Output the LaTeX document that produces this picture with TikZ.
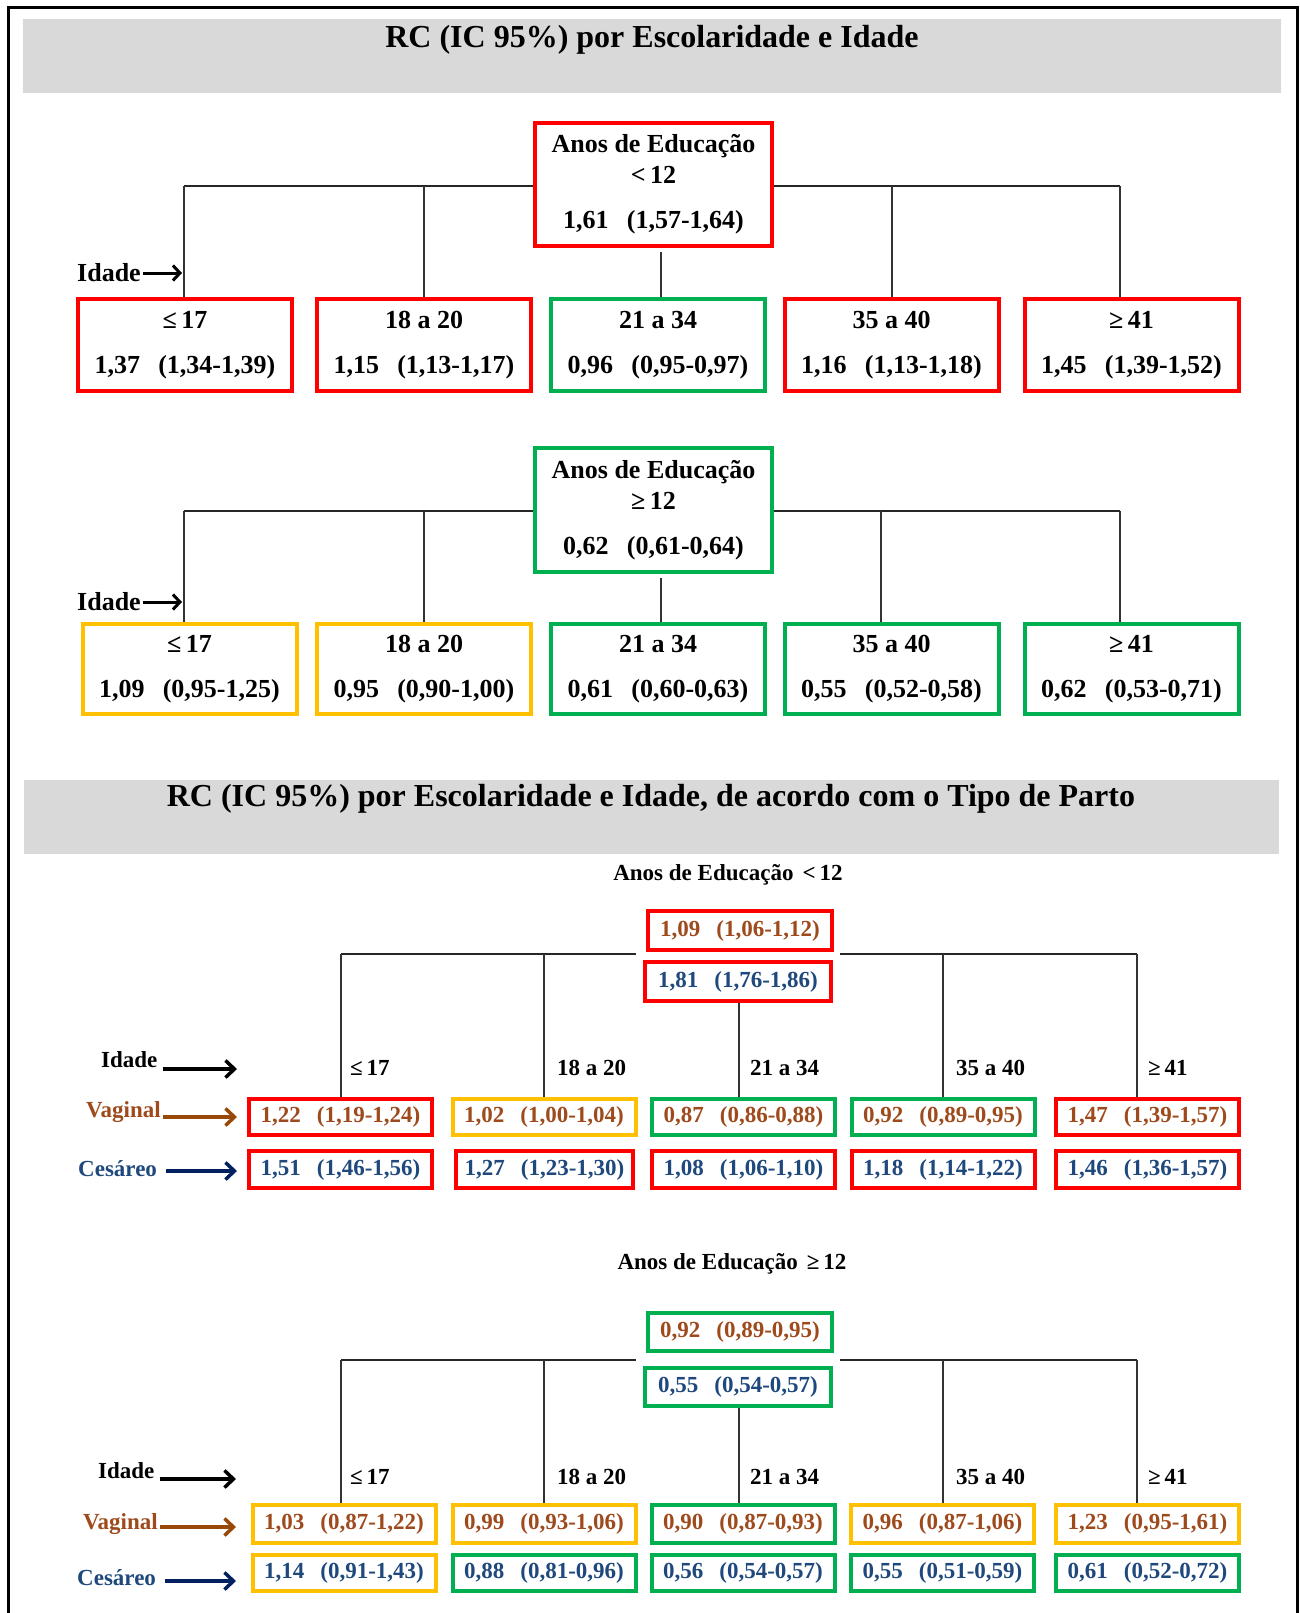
\documentclass[tikz,border=0pt]{standalone}
\usepackage{fontspec}
\setmainfont{Liberation Serif}
\usetikzlibrary{arrows.meta}
\definecolor{hdrgray}{RGB}{217,217,217}
\definecolor{cred}{RGB}{255,0,0}
\definecolor{cgreen}{RGB}{0,176,80}
\definecolor{cyel}{RGB}{255,192,0}
\definecolor{tbrown}{RGB}{158,74,28}
\definecolor{tblue}{RGB}{31,73,125}
\definecolor{abrown}{RGB}{152,72,7}
\definecolor{anavy}{RGB}{0,32,96}
\newcommand\rcval[2]{#1\hspace{0.7em}(#2)}
\tikzset{
  bx/.style={draw, line width=4pt, fill=white, inner sep=0pt, align=center},
  bigtxt/.style={font=\fontsize{26}{31}\selectfont\bfseries},
  smltxt/.style={font=\fontsize{23}{27}\selectfont\bfseries},
  ttl/.style={font=\fontsize{32}{37}\selectfont\bfseries, inner sep=0pt},
  lbl/.style={inner sep=0pt, anchor=west},
  bus/.style={line width=2.5pt, black!85},
  stem/.style={line width=1.3pt, black!80},
  smallarrow/.style={line width=3pt, -{Straight Barb[length=7pt,width=15pt]}},
  rowarrow/.style={line width=3.5pt, -{Straight Barb[length=9pt,width=17pt]}},
  hdr/.style={fill=hdrgray},
  % lower panels: value boxes in two rows
  vbox/.style={bx, smltxt, text=tbrown, minimum width=183, minimum height=36},
  cbox/.style={bx, smltxt, text=tblue, minimum width=183, minimum height=36},
  abox/.style={bx, bigtxt, minimum width=214, minimum height=92},
}
\begin{document}
\begin{tikzpicture}[x=1pt,y=-1pt]
\useasboundingbox (0,0) rectangle (1299,1613);
% outer frame
\draw[line width=3pt] (8,1613) -- (8,8) -- (1297,8) -- (1297,1613);

% ---------- panel 1 header ----------
\fill[hdr] (23,19) rectangle (1281,93);
\node[ttl] (h1) at (652,40) {RC (IC 95\%) por Escolaridade e Idade};

% ---------- Anos de Educacao < 12 ----------
\node[bx, bigtxt, draw=cred, minimum width=237, minimum height=123] (t1) at (653.5,184.5)
  {Anos de Educação\\ <\,12\\[14pt] \rcval{1,61}{1,57-1,64}};
\node[abox, draw=cred]   (a1) at (185,345)    {≤\,17\\[14pt]\rcval{1,37}{1,34-1,39}};
\node[abox, draw=cred]   (a2) at (424,345)    {18 a 20\\[14pt]\rcval{1,15}{1,13-1,17}};
\node[abox, draw=cgreen] (a3) at (658,345)    {21 a 34\\[14pt]\rcval{0,96}{0,95-0,97}};
\node[abox, draw=cred]   (a4) at (891.5,345)  {35 a 40\\[14pt]\rcval{1,16}{1,13-1,18}};
\node[abox, draw=cred]   (a5) at (1131.5,345) {≥\,41\\[14pt]\rcval{1,45}{1,39-1,52}};
\coordinate (j1a) at (184,186);
\coordinate (j1b) at (424,186);
\coordinate (j1d) at (892,186);
\coordinate (j1e) at (1120,186);
\draw[bus] (j1a) -- (t1.west |- j1a);
\draw[bus] (t1.east |- j1e) -- (j1e);
\draw[stem] (j1a) -- (j1a |- a1.north);
\draw[stem] (j1b) -- (j1b |- a2.north);
\draw[stem] (j1d) -- (j1d |- a4.north);
\draw[stem] (j1e) -- (j1e |- a5.north);
\draw[stem, shorten >=4pt] (a3.north -| 661,0) -- (t1.south -| 661,0);
\node[lbl, bigtxt] (id1) at (77,273) {Idade};
\coordinate (id1e) at (182,273);
\draw[smallarrow, shorten <=2pt] (id1) -- (id1e);

% ---------- Anos de Educacao >= 12 ----------
\node[bx, bigtxt, draw=cgreen, minimum width=237, minimum height=124] (t2) at (653.5,510)
  {Anos de Educação\\ ≥\,12\\[14pt] \rcval{0,62}{0,61-0,64}};
\node[abox, draw=cyel, minimum height=90]   (b1) at (189.5,669)  {≤\,17\\[14pt]\rcval{1,09}{0,95-1,25}};
\node[abox, draw=cyel, minimum height=90]   (b2) at (424,669)    {18 a 20\\[14pt]\rcval{0,95}{0,90-1,00}};
\node[abox, draw=cgreen, minimum height=90] (b3) at (658,669)    {21 a 34\\[14pt]\rcval{0,61}{0,60-0,63}};
\node[abox, draw=cgreen, minimum height=90] (b4) at (891.5,669)  {35 a 40\\[14pt]\rcval{0,55}{0,52-0,58}};
\node[abox, draw=cgreen, minimum height=90] (b5) at (1131.5,669) {≥\,41\\[14pt]\rcval{0,62}{0,53-0,71}};
\coordinate (j2a) at (184,511);
\coordinate (j2b) at (424,511);
\coordinate (j2d) at (881,511);
\coordinate (j2e) at (1120,511);
\draw[bus] (j2a) -- (t2.west |- j2a);
\draw[bus] (t2.east |- j2e) -- (j2e);
\draw[stem] (j2a) -- (j2a |- b1.north);
\draw[stem] (j2b) -- (j2b |- b2.north);
\draw[stem] (j2d) -- (j2d |- b4.north);
\draw[stem] (j2e) -- (j2e |- b5.north);
\draw[stem, shorten >=4pt] (b3.north -| 661,0) -- (t2.south -| 661,0);
\node[lbl, bigtxt] (id2) at (77,602) {Idade};
\coordinate (id2e) at (182,602);
\draw[smallarrow, shorten <=2pt] (id2) -- (id2e);

% ---------- panel 2 header ----------
\fill[hdr] (24,780) rectangle (1279,854);
\node[ttl] (h2) at (651,799) {RC (IC 95\%) por Escolaridade e Idade, de acordo com o Tipo de Parto};

% ---------- by delivery type, < 12 ----------
\node[smltxt, inner sep=0pt] (e3) at (728,875) {Anos de Educação\hspace{0.4em}<\,12};
\node[vbox, draw=cred, minimum width=184, minimum height=39] (v3t) at (740,930.5) {\rcval{1,09}{1,06-1,12}};
\node[cbox, draw=cred, minimum width=186, minimum height=39] (c3t) at (738,981.5) {\rcval{1,81}{1,76-1,86}};
\node[vbox, draw=cred]   (v31) at (340.5,1117)  {\rcval{1,22}{1,19-1,24}};
\node[vbox, draw=cyel]   (v32) at (544,1117)    {\rcval{1,02}{1,00-1,04}};
\node[vbox, draw=cgreen] (v33) at (743.5,1117)  {\rcval{0,87}{0,86-0,88}};
\node[vbox, draw=cgreen] (v34) at (943,1117)    {\rcval{0,92}{0,89-0,95}};
\node[vbox, draw=cred]   (v35) at (1147.5,1117) {\rcval{1,47}{1,39-1,57}};
\node[cbox, draw=cred, minimum height=37] (c31) at (340.5,1169.5)  {\rcval{1,51}{1,46-1,56}};
\node[cbox, draw=cred, minimum height=37, minimum width=177] (c32) at (544.5,1169.5) {\rcval{1,27}{1,23-1,30}};
\node[cbox, draw=cred, minimum height=37] (c33) at (743.5,1169.5)  {\rcval{1,08}{1,06-1,10}};
\node[cbox, draw=cred, minimum height=37] (c34) at (943,1169.5)    {\rcval{1,18}{1,14-1,22}};
\node[cbox, draw=cred, minimum height=37] (c35) at (1147.5,1169.5) {\rcval{1,46}{1,36-1,57}};
\coordinate (j3a) at (341,954);
\coordinate (j3b) at (544,954);
\coordinate (j3d) at (943,954);
\coordinate (j3e) at (1137,954);
\draw[bus, shorten >=7pt] (j3a) -- (c3t.west |- j3a);
\draw[bus, shorten <=7pt] (c3t.east |- j3e) -- (j3e);
\draw[stem] (j3a) -- (j3a |- v31.north);
\draw[stem] (j3b) -- (j3b |- v32.north);
\draw[stem] (j3d) -- (j3d |- v34.north);
\draw[stem] (j3e) -- (j3e |- v35.north);
\draw[stem] (c3t.south -| 739,0) -- (v33.north -| 739,0);
\node[lbl, smltxt] (g31) at (350,1068)  {≤\,17};
\node[lbl, smltxt] (g32) at (557,1068)  {18 a 20};
\node[lbl, smltxt] (g33) at (750,1068)  {21 a 34};
\node[lbl, smltxt] (g34) at (956,1068)  {35 a 40};
\node[lbl, smltxt] (g35) at (1148,1068) {≥\,41};
\node[lbl, smltxt] (i3) at (101,1060) {Idade};
\node[lbl, smltxt, text=tbrown] (vg3) at (86,1112) {Vaginal};
\node[lbl, smltxt, text=tblue] (cs3) at (78,1169) {Cesáreo};
\coordinate (i3e) at (237,1069);
\coordinate (vg3e) at (237,1117);
\coordinate (cs3e) at (237,1171);
\draw[rowarrow, black] (i3e -| i3.east) ++(5,0) -- (i3e);
\draw[rowarrow, abrown] (vg3e -| vg3.east) ++(2,0) -- (vg3e);
\draw[rowarrow, anavy] (cs3e -| cs3.east) ++(9,0) -- (cs3e);

% ---------- by delivery type, >= 12 ----------
\node[smltxt, inner sep=0pt] (e4) at (732,1264) {Anos de Educação\hspace{0.4em}≥\,12};
\node[vbox, draw=cgreen, minimum width=184, minimum height=38] (v4t) at (740,1332) {\rcval{0,92}{0,89-0,95}};
\node[cbox, draw=cgreen, minimum width=186, minimum height=38] (c4t) at (738,1387) {\rcval{0,55}{0,54-0,57}};
\node[vbox, draw=cyel, minimum height=38]   (v41) at (344,1524)    {\rcval{1,03}{0,87-1,22}};
\node[vbox, draw=cyel, minimum height=38]   (v42) at (544,1524)    {\rcval{0,99}{0,93-1,06}};
\node[vbox, draw=cgreen, minimum height=38] (v43) at (743,1524)    {\rcval{0,90}{0,87-0,93}};
\node[vbox, draw=cyel, minimum height=38]   (v44) at (942.5,1524)  {\rcval{0,96}{0,87-1,06}};
\node[vbox, draw=cyel, minimum height=38]   (v45) at (1147.5,1524) {\rcval{1,23}{0,95-1,61}};
\node[cbox, draw=cyel]   (c41) at (344,1573)    {\rcval{1,14}{0,91-1,43}};
\node[cbox, draw=cgreen] (c42) at (544,1573)    {\rcval{0,88}{0,81-0,96}};
\node[cbox, draw=cgreen] (c43) at (743,1573)    {\rcval{0,56}{0,54-0,57}};
\node[cbox, draw=cgreen] (c44) at (942.5,1573)  {\rcval{0,55}{0,51-0,59}};
\node[cbox, draw=cgreen] (c45) at (1147.5,1573) {\rcval{0,61}{0,52-0,72}};
\coordinate (j4a) at (341,1360);
\coordinate (j4b) at (544,1360);
\coordinate (j4d) at (943,1360);
\coordinate (j4e) at (1137,1360);
\draw[bus, shorten >=7pt] (j4a) -- (c4t.west |- j4a);
\draw[bus, shorten <=7pt] (c4t.east |- j4e) -- (j4e);
\draw[stem] (j4a) -- (j4a |- v41.north);
\draw[stem] (j4b) -- (j4b |- v42.north);
\draw[stem] (j4d) -- (j4d |- v44.north);
\draw[stem] (j4e) -- (j4e |- v45.north);
\draw[stem] (c4t.south -| 739,0) -- (v43.north -| 739,0);
\node[lbl, smltxt] (g41) at (350,1477)  {≤\,17};
\node[lbl, smltxt] (g42) at (557,1477)  {18 a 20};
\node[lbl, smltxt] (g43) at (750,1477)  {21 a 34};
\node[lbl, smltxt] (g44) at (956,1477)  {35 a 40};
\node[lbl, smltxt] (g45) at (1148,1477) {≥\,41};
\node[lbl, smltxt] (i4) at (98,1471) {Idade};
\node[lbl, smltxt, text=tbrown] (vg4) at (83,1524) {Vaginal};
\node[lbl, smltxt, text=tblue] (cs4) at (77,1578) {Cesáreo};
\coordinate (i4e) at (236,1479);
\coordinate (vg4e) at (236,1527);
\coordinate (cs4e) at (236,1581);
\draw[rowarrow, black] (i4e -| i4.east) ++(5,0) -- (i4e);
\draw[rowarrow, abrown] (vg4e -| vg4.east) ++(2,0) -- (vg4e);
\draw[rowarrow, anavy] (cs4e -| cs4.east) ++(9,0) -- (cs4e);
\end{tikzpicture}
\end{document}
